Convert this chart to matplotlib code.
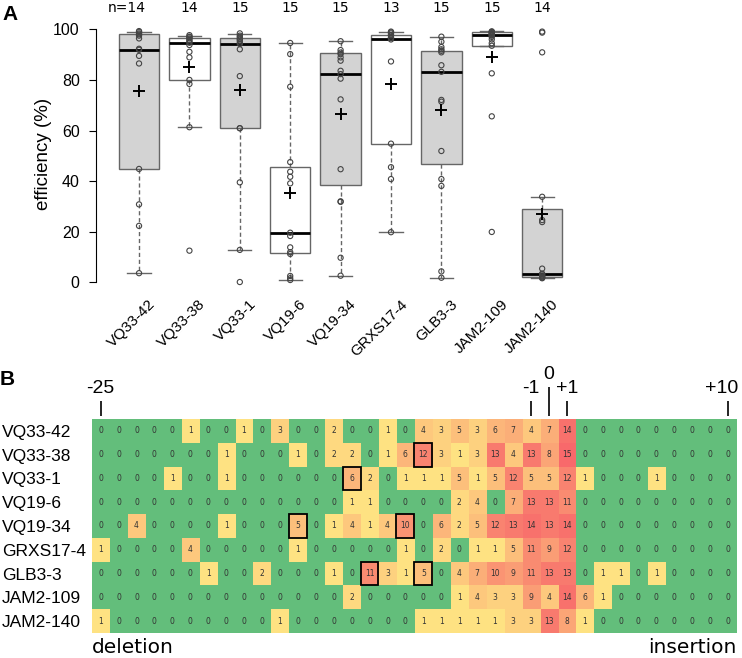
import numpy as np
import matplotlib
matplotlib.use('Agg')
import matplotlib.pyplot as plt
from matplotlib.colors import LinearSegmentedColormap
from matplotlib.patches import Rectangle
from matplotlib.transforms import ScaledTranslation

plt.rcParams['font.family'] = ['Liberation Sans', 'DejaVu Sans']

# ---- panel A data ----
lines = ['VQ33-42', 'VQ33-38', 'VQ33-1', 'VQ19-6', 'VQ19-34',
         'GRXS17-4', 'GLB3-3', 'JAM2-109', 'JAM2-140']
n_obs = [14, 14, 15, 15, 15, 13, 15, 15, 14]
q1 = [44.8, 79.8, 60.9, 11.5, 38.5, 54.8, 46.6, 93.5, 2.2]
med = [91.9, 94.7, 94.2, 19.6, 82.3, 96.0, 83.2, 97.7, 3.3]
q3 = [98.0, 96.4, 96.7, 45.7, 90.5, 97.7, 91.5, 98.8, 29.1]
whislo = [3.6, 61.3, 12.8, 0.9, 2.6, 19.8, 1.8, 93.5, 1.6]
whishi = [99.1, 97.4, 98.1, 94.6, 95.3, 99.1, 97.1, 99.2, 33.8]
means = [75.7, 85.0, 76.0, 35.2, 66.6, 78.3, 68.0, 89.2, 27.1]
box_fill = ['#D3D3D3', 'white', '#D3D3D3', 'white', '#D3D3D3',
            'white', '#D3D3D3', 'white', '#D3D3D3']

points = [
    [99.3, 99.0, 98.4, 98.0, 97.5, 96.4, 92.3, 91.9, 89.5, 86.5, 44.8, 30.8, 22.3, 3.6],
    [97.7, 97.1, 96.9, 96.4, 95.8, 95.2, 94.7, 93.8, 91.1, 88.9, 80.0, 78.4, 61.3, 12.5],
    [98.4, 97.5, 97.0, 96.4, 96.0, 95.5, 94.8, 94.2, 92.1, 81.5, 60.9, 60.9, 39.5, 12.8, 0.1],
    [94.6, 90.2, 77.3, 47.5, 43.7, 41.7, 39.1, 19.6, 18.3, 13.8, 11.9, 11.2, 2.5, 1.6, 0.9],
    [95.3, 91.8, 90.8, 90.2, 88.9, 87.6, 83.6, 82.3, 80.5, 72.3, 44.7, 32.0, 31.8, 9.7, 2.6],
    [99.1, 98.8, 98.4, 97.7, 97.6, 96.8, 96.5, 96.0, 87.3, 54.8, 45.5, 40.8, 19.8],
    [97.1, 95.1, 93.0, 92.1, 91.5, 90.9, 85.8, 83.2, 72.1, 71.4, 51.9, 40.8, 38.1, 4.3, 1.8],
    [99.2, 99.0, 98.8, 98.5, 98.2, 98.0, 97.7, 97.5, 97.0, 96.0, 94.5, 93.5, 82.6, 65.6, 19.9],
    [99.1, 98.7, 90.9, 33.8, 24.6, 23.8, 5.4, 3.4, 3.2, 2.7, 2.3, 2.0, 1.8, 1.6],
]

# ---- panel B data (indel counts per position) ----
pos_cols = [0, 24, 26, 35]
pos_labels = ['-25', '-1', '+1', '+10']
cut_col = 25
heat = np.array([
    [0,0,0,0,0,1,0,0,1,0,3,0,0,2,0,0, 1,0,4,3,5,3,6,7,4,7,14, 0,0,0,0,0,0,0,0,0],
    [0,0,0,0,0,0,0,1,0,0,0,1,0,2,2,0, 1,6,12,3,1,3,13,4,13,8,15, 0,0,0,0,0,0,0,0,0],
    [0,0,0,0,1,0,0,1,0,0,0,0,0,0,6,2, 0,1,1,1,5,1,5,12,5,5,12, 1,0,0,0,1,0,0,0,0],
    [0,0,0,0,0,0,0,0,0,0,0,0,0,0,1,1, 0,0,0,0,2,4,0,7,13,13,11, 0,0,0,0,0,0,0,0,0],
    [0,0,4,0,0,0,0,1,0,0,0,5,0,1,4,1, 4,10,0,6,2,5,12,13,14,13,14, 0,0,0,0,0,0,0,0,0],
    [1,0,0,0,0,4,0,0,0,0,0,1,0,0,0,0, 0,1,0,2,0,1,1,5,11,9,12, 0,0,0,0,0,0,0,0,0],
    [0,0,0,0,0,0,1,0,0,2,0,0,0,1,0,11, 3,1,5,0,4,7,10,9,11,13,13, 0,1,1,0,1,0,0,0,0],
    [0,0,0,0,0,0,0,0,0,0,0,0,0,0,2,0, 0,0,0,0,1,4,3,3,9,4,14, 6,1,0,0,0,0,0,0,0],
    [1,0,0,0,0,0,0,0,0,0,1,0,0,0,0,0, 0,0,1,1,1,1,1,3,3,13,8, 1,0,0,0,0,0,0,0,0],
])
# highlighted cells (row, column)
boxed = [(1, 18), (2, 14), (4, 11), (4, 17), (6, 15), (6, 18)]

W, H = 742, 658
fig = plt.figure(figsize=(W / 100, H / 100), dpi=100)

# ================= panel A =================
ax = fig.add_axes([95.7 / W, 1 - 292.4 / H, 489.8 / W, 273.2 / H])
pos = np.arange(1, len(lines) + 1)
stats = [dict(med=m, q1=a, q3=b, whislo=lo, whishi=hi, fliers=[])
         for m, a, b, lo, hi in zip(med, q1, q3, whislo, whishi)]
bp = ax.bxp(stats, positions=pos, widths=0.8, patch_artist=True, showfliers=False,
            capwidths=0.46,
            boxprops=dict(edgecolor='#666666', linewidth=1.0),
            whiskerprops=dict(color='#666666', linestyle=(0, (3, 2)), linewidth=1.0),
            capprops=dict(color='#666666', linewidth=1.0),
            medianprops=dict(color='black', linewidth=2.0))
for patch, c in zip(bp['boxes'], box_fill):
    patch.set_facecolor(c)

for p, vals in zip(pos, points):
    ax.scatter(np.full(len(vals), p), vals, s=14, facecolors='none',
               edgecolors='#444444', linewidths=0.8, zorder=3)
ax.plot(pos, means, '+', color='black', ms=9, mew=1.4, zorder=4)

ax.set_xlim(0.14, 9.86)
ax.set_ylim(-4, 104)
ax.set_yticks([0, 20, 40, 60, 80, 100])
ax.tick_params(axis='y', length=5, width=0.8, pad=6.5, labelsize=11.5)
ax.set_xticks(pos, lines, rotation=45, ha='right', va='center',
              rotation_mode='anchor', fontsize=11)
ax.tick_params(axis='x', length=0, pad=7)
for lab in ax.get_xticklabels():
    lab.set_transform(lab.get_transform() + ScaledTranslation(0.14, 0, fig.dpi_scale_trans))
for s in ['top', 'right', 'bottom']:
    ax.spines[s].set_visible(False)
ax.spines['left'].set_bounds(0, 100)
ax.spines['left'].set_linewidth(0.8)
ax.set_ylabel('efficiency (%)', fontsize=13.5)
ax.yaxis.set_label_coords(-0.089, 0.508)

for i, (p, n) in enumerate(zip(pos, n_obs)):
    if i == 0:
        # "n=" sits left of the count, which stays centred on the box
        ax.annotate('n=%d' % n, xy=(p, 1), xycoords=('data', 'axes fraction'),
                    xytext=(5, 8), textcoords='offset points', ha='right', va='center',
                    family='DejaVu Sans', fontsize=10)
    else:
        ax.annotate(str(n), xy=(p, 1), xycoords=('data', 'axes fraction'),
                    xytext=(0, 8), textcoords='offset points', ha='center', va='center',
                    family='DejaVu Sans', fontsize=10)

fig.text(2 / W, 1 - 20 / H, 'A', fontweight='bold', fontsize=15, va='baseline')

# ================= panel B =================
green = '#63BE7B'
cmap = LinearSegmentedColormap.from_list('yr', ['#FFEB84', '#F8696B'])
hx = fig.add_axes([91.7 / W, 1 - 633 / H, 645.3 / W, 214 / H])
hx.set_facecolor(green)
hx.imshow(np.ma.masked_equal(heat, 0), cmap=cmap, vmin=0, vmax=15,
          aspect='auto', interpolation='nearest')
nr, nc = heat.shape
for r in range(nr):
    for c in range(nc):
        hx.text(c, r, str(heat[r, c]), ha='center', va='center',
                fontsize=5.5, color='#333333', family='DejaVu Sans')
for r, c in boxed:
    hx.add_patch(Rectangle((c - 0.5, r - 0.5), 1, 1, fill=False,
                           edgecolor='black', linewidth=1.3, zorder=5))

hx.set_xlim(-0.5, nc - 0.5)
hx.set_ylim(nr - 0.5, -0.5)
hx.xaxis.tick_top()
hx.set_xticks(pos_cols, [''] * len(pos_cols))
hx.set_xticks([cut_col], [''], minor=True)
hx.tick_params(axis='x', which='major', length=11, width=1.2, top=True, bottom=False)
hx.tick_params(axis='x', which='minor', length=21, width=1.2, top=True, bottom=False)
hx.spines['top'].set_position(('outward', 2))
for c, lab in zip(pos_cols, pos_labels):
    dx = -6 if c == nc - 1 else 0   # keep "+10" inside the right edge
    hx.annotate(lab, xy=(c, 1), xycoords=('data', 'axes fraction'),
                xytext=(dx * 0.72, 15.8), textcoords='offset points',
                ha='center', va='bottom', fontsize=14)
hx.annotate('0', xy=(cut_col, 1), xycoords=('data', 'axes fraction'),
            xytext=(0, 26), textcoords='offset points',
            ha='center', va='bottom', fontsize=14)
hx.set_yticks(range(nr), lines, fontsize=12.5)
hx.tick_params(axis='y', length=0, pad=64.8)
for lab in hx.get_yticklabels():
    lab.set_horizontalalignment('left')
for s in hx.spines.values():
    s.set_visible(False)

fig.text(0 / W, 1 - 385 / H, 'B', fontweight='bold', fontsize=15, va='baseline')
fig.text(92 / W, 1 - 653 / H, 'deletion', family='DejaVu Sans', fontsize=14.5, va='baseline')
fig.text(736 / W, 1 - 653 / H, 'insertion', family='DejaVu Sans', fontsize=14.5,
         va='baseline', ha='right')

fig.savefig('out.png', dpi=100)
